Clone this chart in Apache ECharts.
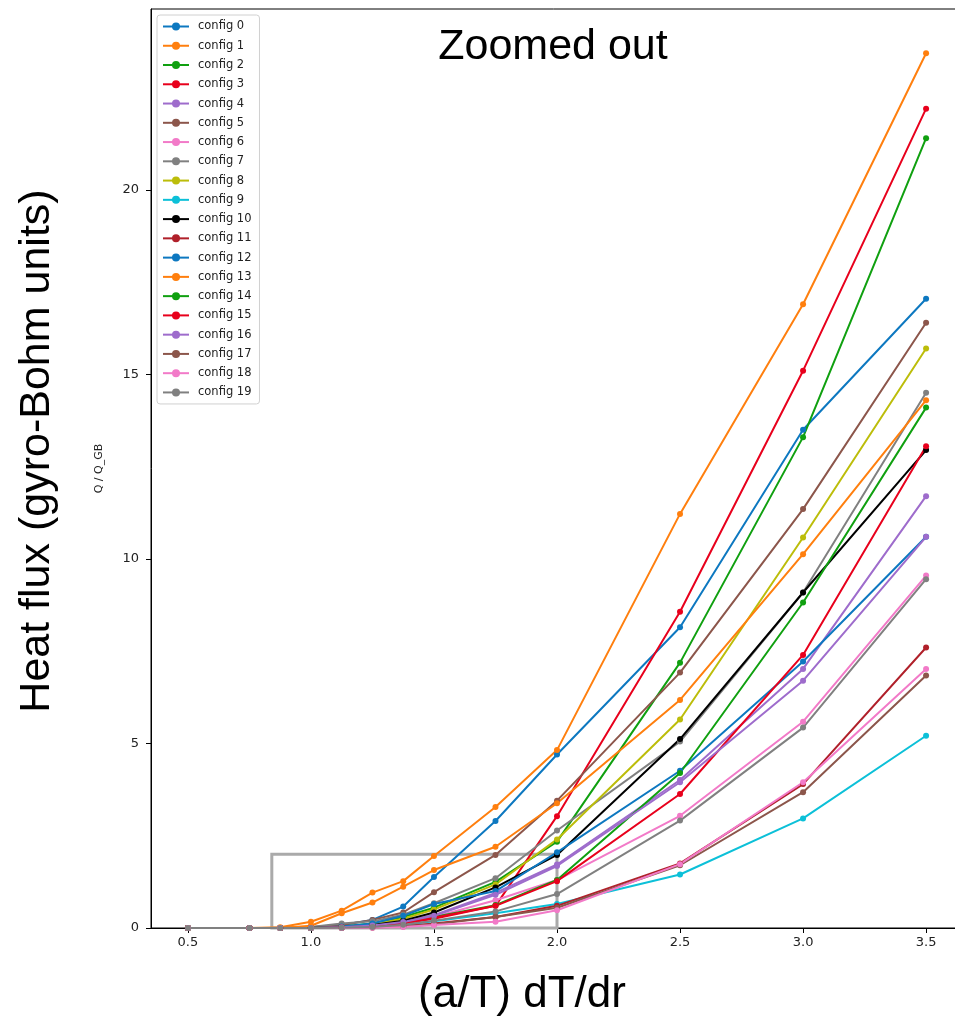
<!DOCTYPE html>
<html>
<head>
<meta charset="utf-8">
<script src="https://cdn.jsdelivr.net/npm/echarts@6/dist/echarts.min.js"></script>
<style>
  html, body { margin: 0; padding: 0; background: #fff; }
  #chart { width: 955px; height: 1019px; }
</style>
</head>
<body>
<div id="chart"></div>
<script>
// x positions (a/T dT/dr)
const xVals = [0.5, 0.75, 0.875, 1.0, 1.125, 1.25, 1.375, 1.5, 1.75, 2.0, 2.5, 3.0, 3.5]

// heat flux per config
const config0  = [0, 0, 0, 0.02, 0.08, 0.22, 0.58, 1.38, 2.9, 4.7, 8.15, 13.5, 17.05]
const config1  = [0, 0, 0.02, 0.17, 0.47, 0.96, 1.27, 1.95, 3.28, 4.82, 11.22, 16.9, 23.7]
const config2  = [0, 0, 0, 0.01, 0.04, 0.12, 0.3, 0.55, 1.25, 2.34, 7.19, 13.3, 21.4]
const config3  = [0, 0, 0, 0, 0.02, 0.05, 0.12, 0.25, 0.6, 3.03, 8.57, 15.1, 22.2]
const config4  = [0, 0, 0, 0, 0.03, 0.08, 0.18, 0.35, 0.95, 1.72, 4.01, 7.02, 11.7]
const config5  = [0, 0, 0, 0.02, 0.08, 0.22, 0.42, 0.97, 1.98, 3.45, 6.92, 11.35, 16.4]
const config6  = [0, 0, 0, 0, 0.02, 0.06, 0.14, 0.3, 0.75, 1.3, 3.04, 5.59, 9.55]
const config7  = [0, 0, 0, 0.03, 0.12, 0.18, 0.36, 0.67, 1.35, 2.64, 5.05, 9.09, 14.5]
const config8  = [0, 0, 0, 0, 0.03, 0.1, 0.25, 0.5, 1.18, 2.4, 5.65, 10.58, 15.7]
const config9  = [0, 0, 0, 0, 0.01, 0.03, 0.08, 0.18, 0.4, 0.65, 1.45, 2.97, 5.21]
const config10 = [0, 0, 0, 0, 0.03, 0.08, 0.2, 0.42, 1.1, 1.98, 5.12, 9.09, 12.95]
const config11 = [0, 0, 0, 0, 0, 0.02, 0.05, 0.12, 0.3, 0.6, 1.75, 3.9, 7.6]
const config12 = [0, 0, 0, 0, 0.04, 0.12, 0.33, 0.65, 1.0, 2.05, 4.26, 7.22, 10.6]
const config13 = [0, 0, 0, 0.06, 0.4, 0.69, 1.12, 1.57, 2.2, 3.38, 6.18, 10.13, 14.3]
const config14 = [0, 0, 0, 0, 0.02, 0.05, 0.14, 0.3, 0.62, 1.3, 4.2, 8.82, 14.1]
const config15 = [0, 0, 0, 0, 0.02, 0.05, 0.12, 0.28, 0.6, 1.27, 3.63, 7.4, 13.05]
const config16 = [0, 0, 0, 0, 0.02, 0.07, 0.16, 0.33, 0.9, 1.68, 3.95, 6.7, 10.6]
const config17 = [0, 0, 0, 0, 0, 0.01, 0.04, 0.1, 0.3, 0.55, 1.7, 3.68, 6.84]
const config18 = [0, 0, 0, 0, 0, 0.01, 0.03, 0.08, 0.17, 0.48, 1.73, 3.95, 7.02]
const config19 = [0, 0, 0, 0, 0.01, 0.03, 0.09, 0.2, 0.45, 0.92, 2.91, 5.43, 9.45]

const configs = [config0, config1, config2, config3, config4, config5, config6, config7, config8, config9,
  config10, config11, config12, config13, config14, config15, config16, config17, config18, config19]

const xTicks = [0.5, 1.0, 1.5, 2.0, 2.5, 3.0, 3.5]
const yTicks = [0, 5, 10, 15, 20]

// zoom box drawn on the plot (data coords)
const zoomBox = [[0.841, 0], [2.0, 2.0]]

const colors = ['#0d78c0', '#ff7f0e', '#10a010', '#e8001c', '#9e6ccc', '#8c564b', '#f27ac8', '#808080',
  '#bcbd0a', '#0cc0d8', '#000000', '#b0202a', '#0d78c0', '#ff7f0e', '#10a010', '#e8001c', '#9e6ccc',
  '#8c564b', '#f27ac8', '#808080']

const series = configs.map((vals, i) => {
  const s = {
    name: 'config ' + i,
    type: 'line',
    data: vals.map((v, j) => [xVals[j], v]),
    symbol: 'circle',
    symbolSize: 6,
    color: colors[i],
    lineStyle: { width: 2 },
    emphasis: { disabled: true },
    animation: false
  }
  if (i === 0) {
    s.markArea = {
      silent: true,
      itemStyle: { color: 'rgba(0,0,0,0)', borderColor: '#aaaaaa', borderWidth: 3 },
      data: [[{ coord: zoomBox[0] }, { coord: zoomBox[1] }]]
    }
  }
  return s
})

const option = {
  animation: false,
  grid: {
    left: 151, top: 9, width: 812, height: 919,
    show: true, borderColor: '#000', borderWidth: 1,
    outerBoundsMode: 'none'
  },
  legend: {
    orient: 'vertical',
    left: 157,
    top: 15,
    itemWidth: 26,
    itemHeight: 10,
    itemGap: 6.26,
    padding: [5, 8, 5, 5],
    borderColor: '#d0d0d0',
    borderWidth: 1,
    borderRadius: 3,
    backgroundColor: 'rgba(255,255,255,0.8)',
    textStyle: { fontFamily: 'DejaVu Sans', fontSize: 11.5, color: '#222', lineHeight: 13, padding: [0, 0, 0, 4] },
    data: configs.map((v, i) => 'config ' + i)
  },
  xAxis: {
    type: 'value',
    min: 0.35,
    max: 3.65,
    splitLine: { show: false },
    axisLine: { show: true, onZero: false, lineStyle: { color: '#000' } },
    axisTick: { show: true, length: 5, customValues: xTicks, lineStyle: { color: '#000' } },
    axisLabel: {
      customValues: xTicks,
      formatter: v => v.toFixed(1),
      fontFamily: 'DejaVu Sans', fontSize: 13, color: '#222', margin: 8
    }
  },
  yAxis: {
    type: 'value',
    min: 0,
    max: 24.9,
    name: 'Q / Q_GB',
    nameLocation: 'middle',
    nameGap: 46,
    nameTextStyle: { fontFamily: 'DejaVu Sans', fontSize: 11, color: '#222' },
    splitLine: { show: false },
    axisLine: { show: true, lineStyle: { color: '#000' } },
    axisTick: { show: true, length: 5, customValues: yTicks, lineStyle: { color: '#000' } },
    axisLabel: {
      customValues: yTicks,
      fontFamily: 'DejaVu Sans', fontSize: 13, color: '#222', margin: 12
    }
  },
  graphic: [
    {
      type: 'text', x: 553, y: 47,
      style: { text: 'Zoomed out', font: '43px "Liberation Sans"', fill: '#000', align: 'center', verticalAlign: 'middle' }
    },
    {
      type: 'text', x: 522, y: 995,
      style: { text: '(a/T) dT/dr', font: '44px "Liberation Sans"', fill: '#000', align: 'center', verticalAlign: 'middle' }
    },
    {
      type: 'text', x: 37, y: 451, rotation: Math.PI / 2,
      style: { text: 'Heat flux (gyro-Bohm units)', font: '43px "Liberation Sans"', fill: '#000', align: 'center', verticalAlign: 'middle' }
    }
  ],
  series: series
}

const chart = echarts.init(document.getElementById('chart'))
chart.setOption(option)
</script>
</body>
</html>
